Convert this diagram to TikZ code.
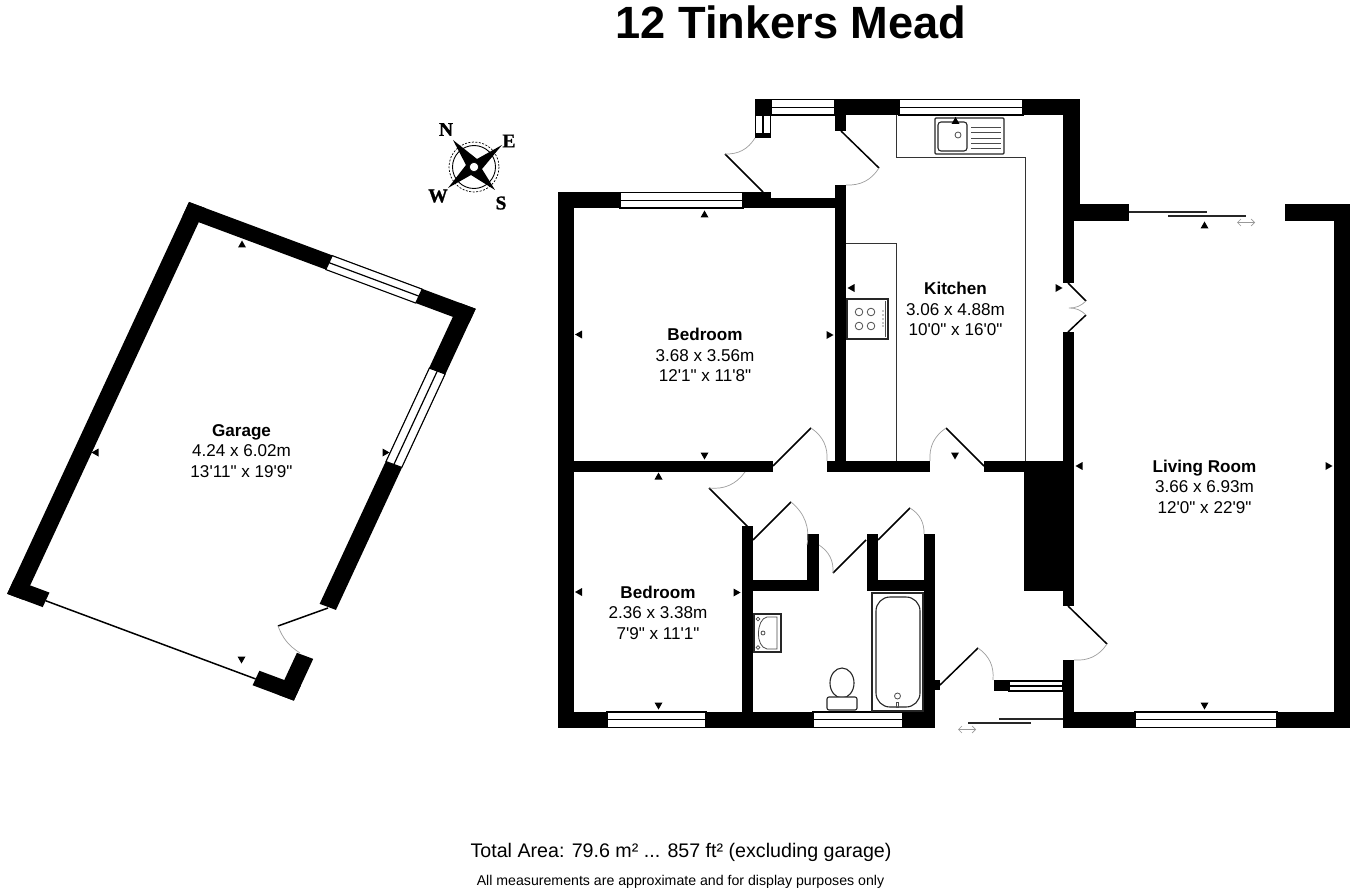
\documentclass[tikz,border=0pt]{standalone}
\usepackage{fontspec}
\newfontfamily\lab{Liberation Sans}
\newfontfamily\compfont{Liberation Serif}[BoldFeatures={FakeBold=1.2}]
\usetikzlibrary{arrows.meta}
\tikzset{
  x=1pt,y=-1pt,
  wall/.style={fill=black,draw=none},
  win/.style={fill=white,draw=black,line width=1.1pt},
  winline/.style={draw=black,line width=1.2pt},
  doorleaf/.style={draw=black,line width=1.5pt},
  swing/.style={draw=black!38,line width=0.7pt},
  fixture/.style={draw=black!85,line width=1.1pt,fill=white},
  fixthin/.style={draw=black!70,line width=0.8pt},
  counter/.style={draw=black!80,line width=0.8pt},
  slide/.style={draw=black!85,line width=1.4pt},
  slidearrow/.style={draw=black!40,line width=0.6pt,{Straight Barb[length=3.5pt,width=7pt]}-{Straight Barb[length=3.5pt,width=7pt]}},
  room/.style={align=center,font=\lab\fontsize{17.1}{20.6}\selectfont,inner sep=0pt},
}
\newcommand{\hwin}[4]{\fill[win] (#1,#2) rectangle (#3,#4);\draw[winline] (#1,{(#2+#4)/2}) -- (#3,{(#2+#4)/2});}
\newcommand{\vwin}[4]{\fill[win] (#1,#2) rectangle (#3,#4);\draw[winline] ({(#1+#3)/2},#2) -- ({(#1+#3)/2},#4);}
\newcommand{\door}[6]{\draw[doorleaf] (#1,#2) -- (#3,#4);\draw[swing] (#3,#4) to[bend left=30] (#5,#6);}
\newcommand{\doorr}[6]{\draw[doorleaf] (#1,#2) -- (#3,#4);\draw[swing] (#3,#4) to[bend right=30] (#5,#6);}
\newcommand{\mku}[2]{\fill (#1-4,#2+3.5) -- (#1+4,#2+3.5) -- (#1,#2-3.5) -- cycle;}
\newcommand{\mkd}[2]{\fill (#1-4,#2-3.5) -- (#1+4,#2-3.5) -- (#1,#2+3.5) -- cycle;}
\newcommand{\mkl}[2]{\fill (#1+3.5,#2-4) -- (#1+3.5,#2+4) -- (#1-3.5,#2) -- cycle;}
\newcommand{\mkr}[2]{\fill (#1-3.5,#2-4) -- (#1-3.5,#2+4) -- (#1+3.5,#2) -- cycle;}
\begin{document}
\begin{tikzpicture}
\useasboundingbox (0,0) rectangle (1352,896);
\fill[white] (0,0) rectangle (1352,896);

% ---- text
\node[font=\lab\bfseries\fontsize{45.2}{50}\selectfont,inner sep=0pt] (title) at (791,22) {12 Tinkers Mead};
\node[font=\lab\fontsize{19.65}{22}\selectfont,inner sep=0pt] (total) at (681,852.5) {Total Area: 79.6 m² ... 857 ft² (excluding garage)};
\node[font=\lab\fontsize{14.15}{17}\selectfont,inner sep=0pt] (note) at (680.5,882) {All measurements are approximate and for display purposes only};

% ---- house walls
\foreach \a/\b/\c/\d in {
 755/99/1080/115, 755/134/771/138, 1063/99/1080/221, 1074/204/1129/221,
 1063/221/1074/283, 1063/332/1074/606, 1063/660/1074/728,
 1063/712/1350/728, 1334/204/1350/728, 1285/204/1350/221,
 558/192/574/728, 558/712/935/728, 558/192/620/208,
 743/192.5/771/208, 771/198/846/208,
 835/185/846/472, 835/115/846/131,
 574/461/773/472, 827/461/930/472, 984/461/1074/472,
 1024/472/1074/591,
 742/526/753/712, 753/580/819/591, 807/534/819/591,
 867/534/878/591, 878/580/924/591, 924/534/935/712,
 935/680/940/690, 994/680/1009/691}
 {\fill[wall] (\a,\b) rectangle (\c,\d);}

% ---- house windows
\hwin{771}{99.5}{835}{115}
\hwin{899}{99.5}{1023}{115}
\hwin{620}{192.5}{743}{208}
\hwin{607}{712}{706}{727.5}
\hwin{813}{712}{903}{727.5}
\hwin{1135}{712}{1277}{727.5}
\hwin{1009}{681}{1063}{691}
\vwin{755.5}{115}{770.5}{134}

% ---- doors
\door{841}{131}{879}{168}{846}{185}
\doorr{763}{192}{725}{154}{755}{138}
\door{773}{466}{811}{428}{827}{461}
\doorr{984}{466}{946}{428}{930}{461}
\doorr{748}{527}{709}{488}{745}{472}
\door{753}{540}{791}{502}{807}{545}
\doorr{866}{540}{833}{573}{819}{545}
\door{878}{540}{910}{508}{924}{534}
\door{1068}{606}{1107}{644}{1074}{660}
\door{940}{685}{978}{648}{993}{680}
% french door
\draw[doorleaf] (1068,283) -- (1086,301);
\draw[doorleaf] (1068,332) -- (1086,315);
\draw[swing] (1086,301) to[bend left=22] (1069,308) to[bend left=22] (1086,315);

% ---- sliding doors
\draw[slide] (1129,212) -- (1207,212);
\draw[slide] (1168,216) -- (1246,216);
\draw[slidearrow] (1237,222.5) -- (1255,222.5);
\draw[slide] (999,719) -- (1063,719);
\draw[slide] (968,723) -- (1031,723);
\draw[slidearrow] (958,729.5) -- (976,729.5);

% ---- kitchen counters
\draw[counter] (896,115) -- (896,157) -- (1025,157) -- (1025,461);
\draw[counter] (846,243) -- (896,243) -- (896,461);

% ---- sink
\draw[fixture,rounded corners=1pt] (935,118) rectangle (1004,154);
\draw[fixture,rounded corners=3pt] (938,122) rectangle (967,151);
\draw[fixthin] (958,135) circle (3);
\foreach \yy in {127,132.5,138,143,148.5} {\draw[fixthin] (971,\yy) -- (1001,\yy);}

% ---- hob
\draw[fixture] (847,299) rectangle (888,339);
\foreach \xx/\yy in {859/312,871/312,859/326,871/326} {\draw[fixthin] (\xx,\yy) circle (3.8);}
\draw[fixthin] (885,301) -- (885,337);
\foreach \yy in {311,315,319,323,326} {\fill (883,\yy) circle (0.7);}

% ---- basin
\draw[fixture] (754,614) rectangle (781,652);
\draw[fixthin] (777,617) -- (777,649) -- (767,649) .. controls (755,647) and (756,619) .. (767,617) -- cycle;
\draw[fixthin] (758,619) circle (1.9);
\draw[fixthin] (758,647.5) circle (1.9);
\draw[fixthin] (763,633) circle (2);

% ---- toilet
\draw[fixture] (842,683) ellipse (12 and 15);
\draw[fixture,rounded corners=2pt] (827,697) rectangle (857,710);

% ---- bath
\draw[fixture] (872,593) rectangle (923,711);
\draw[fixture,rounded corners=14pt] (876,597) rectangle (920,707);
\draw[fixthin] (897.5,696) circle (3);
\draw[fixthin] (896.5,702) rectangle (898.5,707);

% ---- house markers
\mku{704.5}{214} \mkl{578.5}{334.5} \mkr{830}{335} \mkd{704.5}{456}
\mku{658.5}{476} \mkl{578.5}{592} \mkr{737}{592.5} \mkd{658.5}{706}
\mkd{955}{456} \mkl{1079}{466} \mkr{1329}{466} \mkd{1204.5}{706}
\mku{1204.5}{225} \mkl{851}{288} \mkr{1059}{288} \mku{955.5}{120.5}

% ---- garage
\begin{scope}[shift={(189,202)},x={(0.937pt,-0.349pt)},y={(-0.421pt,-0.907pt)}]
  \foreach \a/\b/\c/\d in {
    0/0/306/15.6, 0/0/17.4/432, 288.6/0/306/332, 288.6/386/306/432,
    262/416/306/432, 0/416/38/432}
    {\fill[wall] (\a,\b) -- (\c,\b) -- (\c,\d) -- (\a,\d) -- cycle;}
  \fill[win] (153,0.3) -- (249,0.3) -- (249,15.6) -- (153,15.6) -- cycle;
  \draw[winline] (153,8) -- (249,8);
  \fill[win] (288.9,72) -- (305.7,72) -- (305.7,175) -- (288.9,175) -- cycle;
  \draw[winline] (297.3,72) -- (297.3,175);
  \draw[doorleaf] (38,425) -- (262,425);
\end{scope}
\draw[doorleaf] (328,608) -- (278,626);
\draw[swing] (278,626) to[bend right=18] (300,653);
\mku{242}{244} \mkl{95}{452.5} \mkr{386}{452.5} \mkd{241.5}{660}

% ---- compass
\draw[black,line width=0.9pt] (474,167) circle (21.5);
\draw[black,line width=0.7pt,dash pattern=on 2pt off 1.5pt] (474,167) circle (25);
\fill (453,140) -- (477,159) -- (502,145) -- (482,169) -- (495,190) -- (471,175) -- (448,188) -- (466,165) -- cycle;
\draw[fill=white,line width=0.8pt] (474,167) circle (4.8);
\node[font=\compfont\bfseries\fontsize{19.5}{20}\selectfont,inner sep=0pt] (cn) at (446,129.5) {N};
\node[font=\compfont\bfseries\fontsize{19.5}{20}\selectfont,inner sep=0pt] (ce) at (509,141) {E};
\node[font=\compfont\bfseries\fontsize{19.5}{20}\selectfont,inner sep=0pt] (cw) at (438,196) {W};
\node[font=\compfont\bfseries\fontsize{19.5}{20}\selectfont,inner sep=0pt] (cs) at (501,203) {S};

% ---- room labels
\node[room] (kitchen) at (955.5,309) {{\bfseries Kitchen}\\3.06 x 4.88m\\10'0" x 16'0"};
\node[room] (bed1) at (705,355) {{\bfseries Bedroom}\\3.68 x 3.56m\\12'1" x 11'8"};
\node[room] (bed2) at (658,612.5) {{\bfseries Bedroom}\\2.36 x 3.38m\\7'9" x 11'1"};
\node[room] (garage) at (241.5,451) {{\bfseries Garage}\\4.24 x 6.02m\\13'11" x 19'9"};
\node[room] (living) at (1204.5,486.5) {{\bfseries Living Room}\\3.66 x 6.93m\\12'0" x 22'9"};
\end{tikzpicture}
\end{document}
